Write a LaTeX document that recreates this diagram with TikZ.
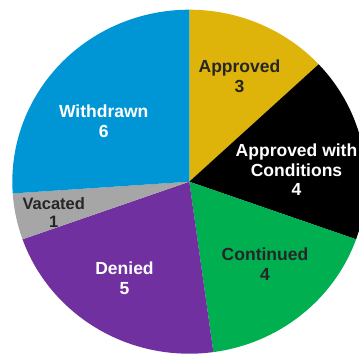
\documentclass[tikz,border=0pt]{standalone}
\usepackage{fontspec}
\setmainfont{Liberation Sans}
\usetikzlibrary{calc}
\definecolor{cblue}{RGB}{0,150,214}
\definecolor{cgold}{RGB}{222,179,10}
\definecolor{cgreen}{RGB}{0,176,80}
\definecolor{cpurple}{RGB}{112,48,160}
\definecolor{cgray}{RGB}{166,166,166}
\definecolor{cdark}{RGB}{38,38,38}
\tikzset{
  lbl/.style={align=center, inner sep=0pt, font=\bfseries\fontsize{17.5}{19.6}\selectfont},
  lbldark/.style={lbl, text=cdark},
  lbllight/.style={lbl, text=white},
}
\newcommand{\pieslice}[3]{%
  \fill[#3] (cen) -- ($(cen)+(#1:177 and 172)$) arc[start angle=#1, end angle=#2, x radius=177, y radius=172] -- cycle;}
\begin{document}
\begin{tikzpicture}[x=1pt,y=1pt]
\useasboundingbox (0,0) rectangle (359,354);
\clip (0,0) rectangle (359,354);
\coordinate (cen) at (189.3,172.3);
\pieslice{90}{43.0435}{cgold}
\pieslice{43.0435}{-19.5652}{black}
\pieslice{-19.5652}{-82.1739}{cgreen}
\pieslice{-82.1739}{-160.4348}{cpurple}
\pieslice{-160.4348}{-176.0870}{cgray}
\pieslice{-176.0870}{-270}{cblue}
\node[lbldark] (approved) at (239.5,277.7) {Approved\\3};
\node[lbllight] (awc) at (296.5,184.3) {Approved with\\Conditions\\4};
\node[lbldark] (continued) at (265,89.8) {Continued\\4};
\node[lbllight] (denied) at (124.5,75.7) {Denied\\5};
\node[lbldark, font=\bfseries\fontsize{16.5}{18}\selectfont] (vacated) at (53.8,141.7) {Vacated\\1};
\node[lbllight] (withdrawn) at (103.7,232.8) {Withdrawn\\6};
\end{tikzpicture}
\end{document}
